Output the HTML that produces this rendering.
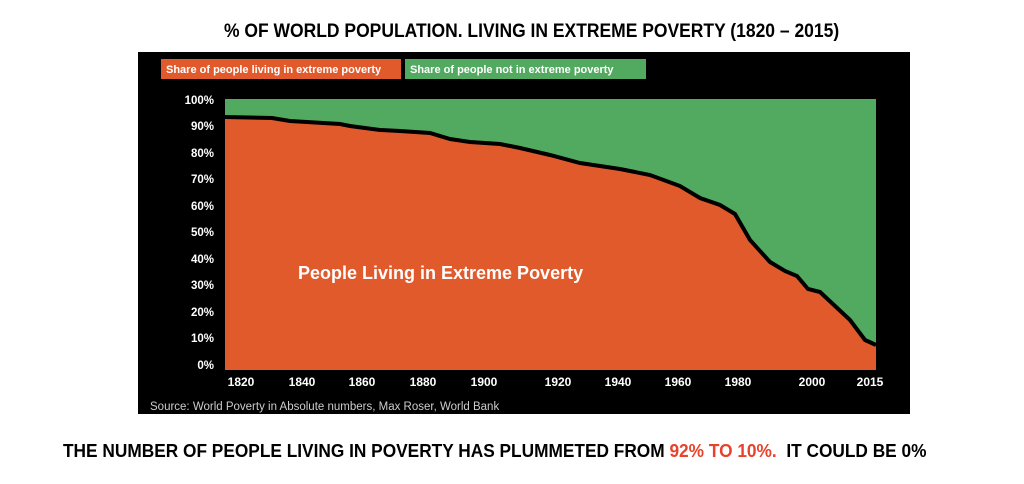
<!DOCTYPE html>
<html><head><style>
body{margin:0;background:#fff;width:1024px;height:484px;overflow:hidden;position:relative;font-family:"Liberation Sans",sans-serif}
.t{position:absolute;white-space:nowrap;font-weight:bold;transform-origin:0 0}
</style></head><body>
<div class="t" style="left:224px;top:21px;font-size:19px;transform:scaleX(0.92)">% OF WORLD POPULATION. LIVING IN EXTREME POVERTY (1820 – 2015)</div>
<svg style="position:absolute;left:0;top:0" width="1024" height="484">
<rect x="138" y="52" width="772" height="362" fill="#000"/>
<rect x="161" y="59" width="240" height="20" fill="#e05a2c"/>
<rect x="405" y="59" width="241" height="20" fill="#52a960"/>
<g font-family="Liberation Sans" font-weight="bold" font-size="11" fill="#fff">
<text x="166" y="73">Share of people living in extreme poverty</text>
<text x="410" y="73">Share of people not in extreme poverty</text>
</g>
<rect x="225" y="99" width="651" height="271" fill="#52a960"/>
<path d="M225,117 L272,118 L290,121 L340,124 L350,126 L380,130 L400,131 L430,133 L450,139 L470,142 L500,144 L520,148 L550,155 L580,163 L600,166 L620,169 L650,175 L680,186 L700,198 L720,205 L735,214 L750,240 L770,262 L785,271 L797,276 L808,289 L820,292 L835,306 L850,320 L865,340 L876,345 L876,370 L225,370 Z" fill="#e05a2c"/>
<path d="M225,117 L272,118 L290,121 L340,124 L350,126 L380,130 L400,131 L430,133 L450,139 L470,142 L500,144 L520,148 L550,155 L580,163 L600,166 L620,169 L650,175 L680,186 L700,198 L720,205 L735,214 L750,240 L770,262 L785,271 L797,276 L808,289 L820,292 L835,306 L850,320 L865,340 L876,345" fill="none" stroke="#000" stroke-width="4"/>
<g font-family="Liberation Sans" font-weight="bold" font-size="11.5" fill="#fff" text-anchor="end">
<text x="214" y="104">100%</text><text x="214" y="130">90%</text><text x="214" y="157">80%</text><text x="214" y="183">70%</text><text x="214" y="210">60%</text><text x="214" y="236">50%</text><text x="214" y="263">40%</text><text x="214" y="289">30%</text><text x="214" y="316">20%</text><text x="214" y="342">10%</text><text x="214" y="369">0%</text>
</g>
<g font-family="Liberation Sans" font-weight="bold" font-size="12" fill="#fff" text-anchor="middle">
<text x="241" y="386">1820</text><text x="302" y="386">1840</text><text x="362" y="386">1860</text><text x="423" y="386">1880</text><text x="484" y="386">1900</text><text x="558" y="386">1920</text><text x="618" y="386">1940</text><text x="678" y="386">1960</text><text x="738" y="386">1980</text><text x="812" y="386">2000</text><text x="870" y="386">2015</text>
</g>
<text x="150" y="410" font-family="Liberation Sans" font-size="11.5" fill="#ccc">Source: World Poverty in Absolute numbers, Max Roser, World Bank</text>
<text x="298" y="279" font-family="Liberation Sans" font-weight="bold" font-size="18" fill="#fff">People Living in Extreme Poverty</text>
</svg>
<div class="t" style="left:63px;top:441px;font-size:18px;transform:scaleX(0.96)">THE NUMBER OF PEOPLE LIVING IN POVERTY HAS PLUMMETED FROM <span style="color:#e8412c">92% TO 10%.</span>&nbsp; IT COULD BE 0%</div>
</body></html>
